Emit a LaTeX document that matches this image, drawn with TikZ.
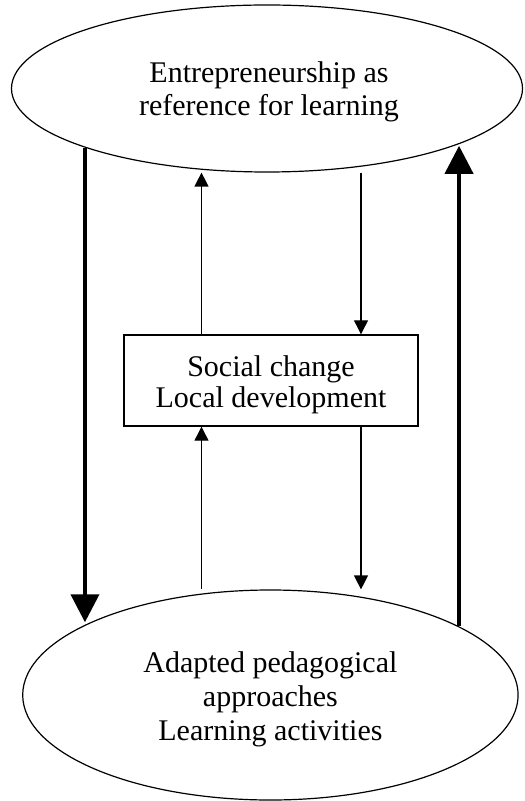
\documentclass[tikz,border=0pt]{standalone}
\usepackage{fontspec}
\setmainfont{Liberation Serif}
\usetikzlibrary{arrows.meta, shapes.geometric}

\begin{document}
\begin{tikzpicture}[
      x=0.5pt, y=-0.5pt,
      blob/.style={
        ellipse,
        draw=black,
        line width=0.6pt,
        inner sep=0pt
      },
      box/.style={
        draw=black,
        line width=0.7pt,
        minimum width=147pt,
        minimum height=45.5pt,
        inner sep=0pt
      },
      txt/.style={
        align=center,
        inner sep=0pt,
        font=\fontsize{15}{#1}\selectfont
      },
      bigarr/.style={
        -{Triangle[length=14pt,width=14pt]},
        line width=2pt
      },
      smallarr/.style={
        -{Triangle[length=7pt,width=7pt]},
        line width=0.6pt
      }
    ]
    \useasboundingbox (0,0) rectangle (524,801);

    % Main objects
    \node[blob, minimum width=255.5pt, minimum height=83.5pt] (ref) at (267,88.5) {};
    \node[txt=16.5pt] (reftext) at (269,92)
      {Entrepreneurship as\\reference for learning};

    \node[box] (change) at (271,380.5) {};
    \node[txt=15.5pt] (changetext) at (271,384.5)
      {Social change\\Local development};

    \node[blob, minimum width=247.7pt, minimum height=105pt] (act) at (270.4,695) {};
    \node[txt=17pt] (acttext) at (270.4,699)
      {Adapted pedagogical\\approaches\\Learning activities};

    % Columns of the thin arrows
    \coordinate (lx) at (201.5,0);
    \coordinate (rx) at (361,0);

    % Outer loop
    \draw[bigarr] (ref.198.4) -- (ref.198.4 |- act.158.7);
    \draw[bigarr] (act.20) -- (act.20 |- ref.343.9);

    % Inner loops
    \draw[smallarr] (change.north -| lx) -- (ref.south -| lx);
    \draw[smallarr] (ref.south -| rx) -- (change.north -| rx);
    \draw[smallarr] (act.north -| lx) -- (change.south -| lx);
    \draw[smallarr] (change.south -| rx) -- (act.north -| rx);

    \end{tikzpicture}
\end{document}
